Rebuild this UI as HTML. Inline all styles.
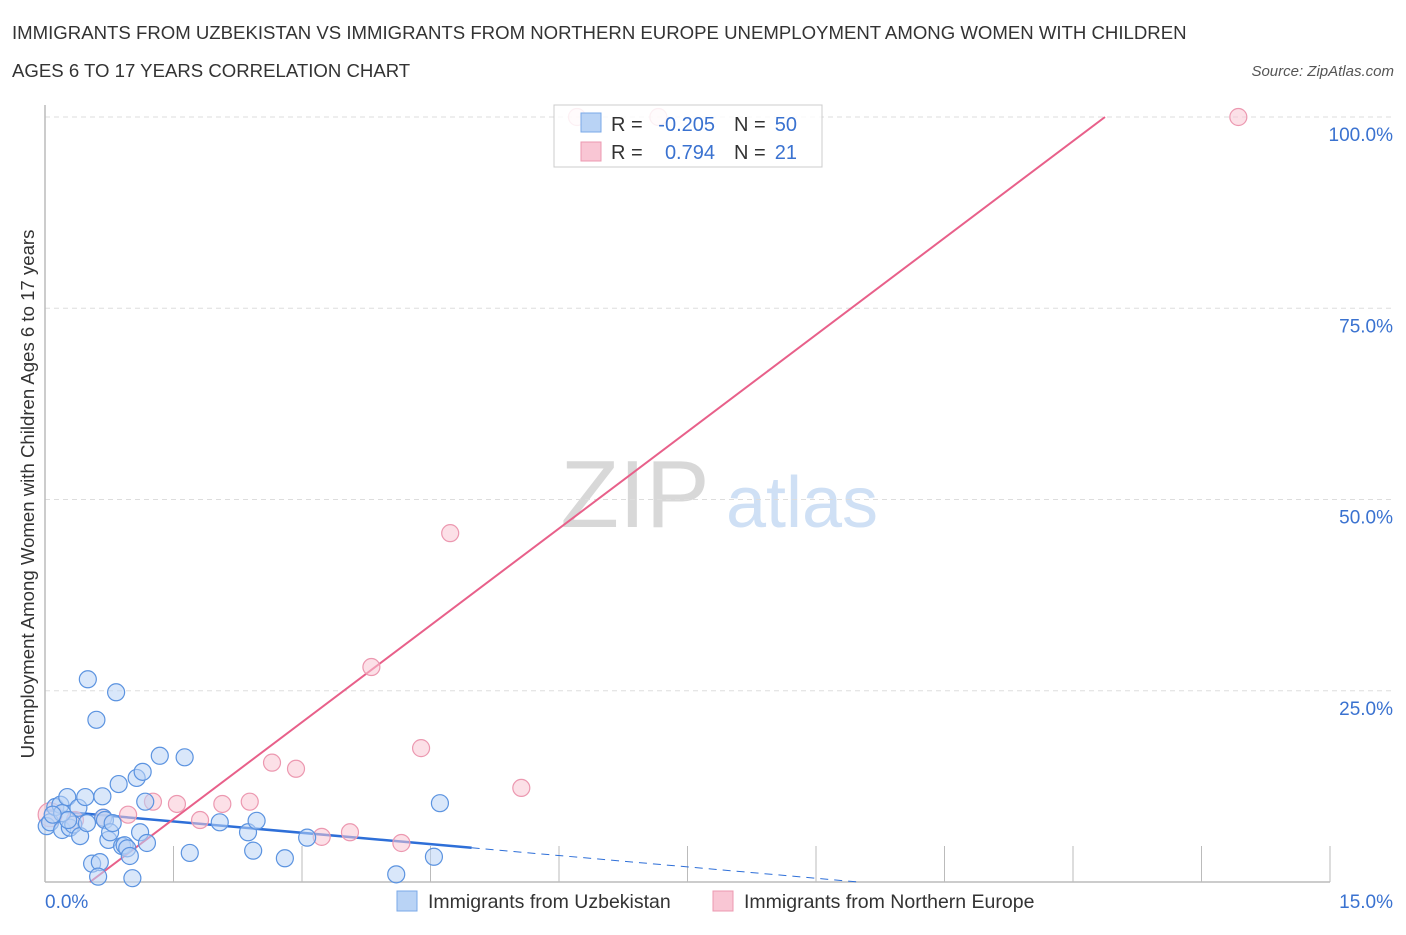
<!DOCTYPE html>
<html><head><meta charset="utf-8"><style>
body{margin:0;background:#fff;font-family:"Liberation Sans",sans-serif;}
svg text{font-family:"Liberation Sans",sans-serif;}
</style></head><body>
<svg id="chart" width="1406" height="930" xmlns="http://www.w3.org/2000/svg">
<text x="12" y="39" font-size="18.6" fill="#333">IMMIGRANTS FROM UZBEKISTAN VS IMMIGRANTS FROM NORTHERN EUROPE UNEMPLOYMENT AMONG WOMEN WITH CHILDREN</text>
<text x="12" y="77" font-size="18.6" fill="#333">AGES 6 TO 17 YEARS CORRELATION CHART</text>
<text x="1394" y="76" font-size="15" fill="#555" font-style="italic" text-anchor="end">Source: ZipAtlas.com</text>
<text transform="translate(34,494) rotate(-90)" font-size="18.6" fill="#333" text-anchor="middle">Unemployment Among Women with Children Ages 6 to 17 years</text>
<g><text x="635" y="527" font-size="96" fill="#d8d8d8" text-anchor="middle" font-family="Liberation Serif,serif">ZIP</text><text x="802" y="527" font-size="72" fill="#cfe0f5" text-anchor="middle">atlas</text></g>
<g id="grid"></g><g id="axes"></g><g id="lines"></g><g id="pts"></g>
<g>
<rect x="554" y="105" width="268" height="62" fill="#fff" fill-opacity="0.85" stroke="#ccc"/>
<rect x="581" y="113" width="20" height="19" fill="#b9d3f5" stroke="#7aa8e8"/>
<rect x="581" y="142" width="20" height="19" fill="#f9c6d4" stroke="#ec98b0"/>
<text x="611" y="131" font-size="20" fill="#333">R = </text><text x="715" y="131" font-size="20" fill="#3a72d0" text-anchor="end">-0.205</text>
<text x="734" y="131" font-size="20" fill="#333">N = </text><text x="797" y="131" font-size="20" fill="#3a72d0" text-anchor="end">50</text>
<text x="611" y="159" font-size="20" fill="#333">R = </text><text x="715" y="159" font-size="20" fill="#3a72d0" text-anchor="end">0.794</text>
<text x="734" y="159" font-size="20" fill="#333">N = </text><text x="797" y="159" font-size="20" fill="#3a72d0" text-anchor="end">21</text>
</g>
<g>
<rect x="397" y="891" width="20" height="20" fill="#b9d3f5" stroke="#7aa8e8"/>
<text x="428" y="908" font-size="19.5" fill="#333">Immigrants from Uzbekistan</text>
<rect x="713" y="891" width="20" height="20" fill="#f9c6d4" stroke="#ec98b0"/>
<text x="744" y="908" font-size="19.5" fill="#333">Immigrants from Northern Europe</text>
</g>
</svg>
<script>
const blueX=[0.02,0.06,0.12,0.18,0.2,0.26,0.29,0.33,0.39,0.41,0.47,0.49,0.5,0.55,0.6,0.64,0.67,0.68,0.7,0.74,0.76,0.79,0.83,0.86,0.9,0.93,0.96,0.99,1.02,1.07,1.11,1.14,1.19,1.34,1.63,1.69,2.04,2.37,2.43,2.47,2.8,3.06,4.1,4.54,4.61,0.62,0.2,0.27,0.09,1.17];
const blueY=[7.3,7.8,9.8,10.1,6.8,11.1,7.1,7.5,9.7,6.0,11.1,7.7,26.5,2.4,21.2,2.6,11.2,8.4,8.1,5.5,6.5,7.7,24.8,12.8,4.7,4.8,4.4,3.4,0.5,13.6,6.5,14.4,5.1,16.5,16.3,3.8,7.8,6.5,4.1,8.0,3.1,5.8,1.0,3.3,10.3,0.7,9.0,8.1,8.8,10.5];
const pinkX=[0.06,0.35,0.68,0.97,1.26,1.54,1.81,2.07,2.39,2.65,2.93,3.23,3.56,3.81,4.16,4.39,4.73,5.56,6.21,7.16,13.93];
const pinkY=[8.8,8.1,8.4,8.8,10.5,10.2,8.1,10.2,10.5,15.6,14.8,5.9,6.5,28.1,5.1,17.5,45.6,12.3,100,100,100];
const yTicks=[25,50,75,100];
const yTickLabels=["25.0%","50.0%","75.0%","100.0%"];
const xTicks=[0,1.5,3,4.5,6,7.5,9,10.5,12,13.5,15];
const blueFit=[9.4,-0.99];const pinkFit=[-4.43,8.44];
const X=v=>45+v/15*1285, Y=v=>882-v*7.65;
const NS="http://www.w3.org/2000/svg";
function mk(p,t,a){const e=document.createElementNS(NS,t);for(const k in a)e.setAttribute(k,a[k]);document.getElementById(p).appendChild(e);return e;}
yTicks.forEach((t,i)=>{
 const l=mk('grid','line',{x1:45,x2:1394,y1:Y(t),y2:Y(t),stroke:'#ddd','stroke-dasharray':'5,4'});
 
 
 const tx=mk('grid','text',{x:1393,y:Y(t)+24,'font-size':19,fill:'#3a72d0','text-anchor':'end'});tx.textContent=yTickLabels[i];
 
 
});
const ax=mk('axes','line',{x1:45,x2:1330,y1:882,y2:882,stroke:'#bbb','stroke-width':1.5});


const ay=mk('axes','line',{x1:45,x2:45,y1:105,y2:882,stroke:'#bbb','stroke-width':1.5});


xTicks.slice(1).forEach(t=>{const l=mk('axes','line',{x1:X(t),x2:X(t),y1:846,y2:882,stroke:'#bbb'});
 
 });
const xl0=mk('axes','text',{x:45,y:908,'font-size':19,fill:'#3a72d0'});xl0.textContent='0.0%';


const xl1=mk('axes','text',{x:1393,y:908,'font-size':19,fill:'#3a72d0','text-anchor':'end'});xl1.textContent='15.0%';


function dot(x,y,c,s,n,r){const e=mk('pts','circle',{cx:X(x),cy:Y(y),r:r||8.5,fill:c,'fill-opacity':0.55,stroke:s,'stroke-width':1.2});
 
 }
pinkX.forEach((x,i)=>dot(x,pinkY[i],'#f9c6d4','#ec98b0','northern-europe-point',i==0?12:8.5));
blueX.forEach((x,i)=>dot(x,blueY[i],'#b9d3f5','#5b93e0','uzbekistan-point'));
const bEnd=4.98, bZero=-blueFit[0]/blueFit[1];
const b1=mk('lines','line',{x1:X(0),y1:Y(blueFit[0]),x2:X(bEnd),y2:Y(blueFit[0]+blueFit[1]*bEnd),stroke:'#2e6fd8','stroke-width':2.5});


const b2=mk('lines','line',{x1:X(bEnd),y1:Y(blueFit[0]+blueFit[1]*bEnd),x2:X(bZero),y2:Y(0),stroke:'#2e6fd8','stroke-width':1,'stroke-dasharray':'8,6'});


const p0=-pinkFit[0]/pinkFit[1], p1=(100-pinkFit[0])/pinkFit[1];
const pl=mk('lines','line',{x1:X(p0),y1:Y(0),x2:X(p1),y2:Y(100),stroke:'#e8608a','stroke-width':2});


</script>
</body></html>
